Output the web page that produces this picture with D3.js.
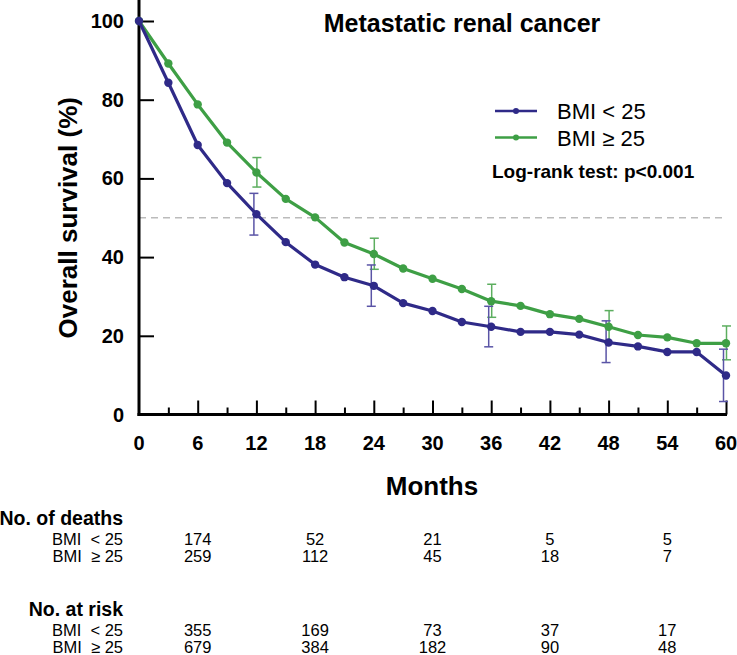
<!DOCTYPE html>
<html>
<head>
<meta charset="utf-8">
<script src="https://cdn.jsdelivr.net/npm/d3@7"></script>
<style>
  body { margin: 0; background: #fff; }
  text { font-family: "Liberation Sans", Arial, sans-serif; fill: #000; }
</style>
</head>
<body>
<div id="chart"></div>
<script>
// survival curves, one point every 3 months
const months = [0, 3, 6, 9, 12, 15, 18, 21, 24, 27, 30, 33, 36, 39, 42, 45, 48, 51, 54, 57, 60];
const bmiLow = [100, 84.3, 68.5, 58.8, 50.9, 43.8, 38.1, 34.9, 32.7, 28.3, 26.3, 23.5, 22.3, 21.0, 21.0, 20.3, 18.3, 17.3, 15.9, 15.9, 9.9];
const bmiHigh = [100, 89.2, 78.8, 69.1, 61.5, 54.8, 50.1, 43.7, 40.8, 37.1, 34.5, 31.9, 28.8, 27.6, 25.5, 24.3, 22.3, 20.2, 19.6, 18.1, 18.1];

// confidence bars
const ciMonths = [12, 24, 36, 48, 60];
const bmiLowLo = [45.6, 27.5, 17.2, 13.2, 3.3];
const bmiLowHi = [56.2, 38.0, 27.5, 23.8, 16.6];
const bmiHighLo = [57.8, 36.9, 24.7, 18.1, 13.9];
const bmiHighHi = [65.3, 44.8, 33.1, 26.4, 22.5];

// table under the plot
const tableMonths = [6, 18, 30, 42, 54];
const deathsLow = [174, 52, 21, 5, 5];
const deathsHigh = [259, 112, 45, 18, 7];
const riskLow = [355, 169, 73, 37, 17];
const riskHigh = [679, 384, 182, 90, 48];

const xTicks = [0, 6, 12, 18, 24, 30, 36, 42, 48, 54, 60];
const yTicks = [0, 20, 40, 60, 80, 100];

const purple = "#2f2a88";
const green = "#3e9f45";

const width = 737, height = 655;
const svg = d3.select("#chart").append("svg")
    .attr("width", width)
    .attr("height", height);

const x = d3.scaleLinear().domain([0, 60]).range([139, 726]);
const y = d3.scaleLinear().domain([0, 100]).range([414.5, 21]);

// title
svg.append("text")
    .attr("x", 462).attr("y", 32)
    .attr("text-anchor", "middle")
    .style("font-size", "25px").style("font-weight", "bold")
    .text("Metastatic renal cancer");

// 50% reference line
svg.append("line")
    .attr("x1", x(0)).attr("x2", 722)
    .attr("y1", y(50)).attr("y2", y(50))
    .attr("stroke", "#bbbbbb").attr("stroke-width", 1.5)
    .attr("stroke-dasharray", "7,5");

// x axis: major ticks every 6, minor every 3, pointing inward
const xAxis = svg.append("g").attr("transform", "translate(0," + y(0) + ")");
xAxis.call(d3.axisTop(x).tickValues(months.filter(m => m % 6 == 3)).tickSize(7).tickFormat(""));
xAxis.append("g").call(d3.axisTop(x).tickValues(xTicks.slice(1)).tickSize(14).tickFormat(""));
xAxis.selectAll(".domain").remove();
xAxis.selectAll("line").attr("stroke", "#000").attr("stroke-width", 2);

svg.append("g").selectAll("text")
    .data(xTicks)
    .enter().append("text")
    .attr("x", d => x(d)).attr("y", 450)
    .attr("text-anchor", "middle")
    .style("font-size", "20px").style("font-weight", "bold")
    .text(d => d);

// y axis
const yAxis = svg.append("g").attr("transform", "translate(" + x(0) + ",0)")
    .call(d3.axisRight(y).tickValues(yTicks.slice(1)).tickSize(15).tickFormat(""));
yAxis.selectAll(".domain").remove();
yAxis.selectAll("line").attr("stroke", "#000").attr("stroke-width", 2);

svg.append("g").selectAll("text")
    .data(yTicks)
    .enter().append("text")
    .attr("x", 124).attr("y", d => y(d) + 7)
    .attr("text-anchor", "end")
    .style("font-size", "20px").style("font-weight", "bold")
    .text(d => d);

svg.append("line")
    .attr("x1", x(0)).attr("x2", x(0))
    .attr("y1", 0).attr("y2", y(0) + 1.5)
    .attr("stroke", "#000").attr("stroke-width", 3);
svg.append("line")
    .attr("x1", x(0) - 1.5).attr("x2", x(60) + 1)
    .attr("y1", y(0)).attr("y2", y(0))
    .attr("stroke", "#000").attr("stroke-width", 3);

svg.append("text")
    .attr("transform", "translate(77," + y(50) + ") rotate(-90)")
    .attr("text-anchor", "middle")
    .style("font-size", "26px").style("font-weight", "bold")
    .text("Overall survival (%)");

svg.append("text")
    .attr("x", 432).attr("y", 495)
    .attr("text-anchor", "middle")
    .style("font-size", "26px").style("font-weight", "bold")
    .text("Months");

// error bars
function drawBars(lo, hi, color, dx) {
    const g = svg.append("g").attr("stroke", color).attr("stroke-width", 1.5);
    ciMonths.forEach((m, i) => {
        const cx = x(m) + dx;
        g.append("line").attr("x1", cx).attr("x2", cx).attr("y1", y(lo[i])).attr("y2", y(hi[i]));
        g.append("line").attr("x1", cx - 4.5).attr("x2", cx + 4.5).attr("y1", y(lo[i])).attr("y2", y(lo[i]));
        g.append("line").attr("x1", cx - 4.5).attr("x2", cx + 4.5).attr("y1", y(hi[i])).attr("y2", y(hi[i]));
    });
}
drawBars(bmiHighLo, bmiHighHi, "#5cae5f", 0.5);
drawBars(bmiLowLo, bmiLowHi, "#5a54a6", -2.5);

// curves
function drawCurve(values, color) {
    const line = d3.line().x((d, i) => x(months[i])).y(d => y(d));
    svg.append("path")
        .datum(values)
        .attr("d", line)
        .attr("fill", "none")
        .attr("stroke", color)
        .attr("stroke-width", 3.2)
        .attr("stroke-linejoin", "round");
    svg.append("g").selectAll("circle")
        .data(values)
        .enter().append("circle")
        .attr("cx", (d, i) => x(months[i]))
        .attr("cy", d => y(d))
        .attr("r", 4.2)
        .attr("fill", color);
}
drawCurve(bmiHigh, green);
drawCurve(bmiLow, purple);

// legend
const legend = [{label: "BMI < 25", color: purple}, {label: "BMI \u2265 25", color: green}];
legend.forEach((d, i) => {
    const ly = 111 + i * 26.5;
    svg.append("line")
        .attr("x1", 495).attr("x2", 537).attr("y1", ly).attr("y2", ly)
        .attr("stroke", d.color).attr("stroke-width", 2.5);
    svg.append("circle").attr("cx", 516).attr("cy", ly).attr("r", 3).attr("fill", d.color);
    svg.append("text")
        .attr("x", 557).attr("y", ly + 8)
        .style("font-size", "22px")
        .text(d.label);
});

svg.append("text")
    .attr("x", 492).attr("y", 178)
    .style("font-size", "19px").style("font-weight", "bold")
    .text("Log-rank test: p<0.001");

// table
function drawTable(title, top, low, high) {
    svg.append("text")
        .attr("x", 123).attr("y", top)
        .attr("text-anchor", "end")
        .style("font-size", "19.5px").style("font-weight", "bold")
        .text(title);
    [["BMI  < 25", low], ["BMI  \u2265 25", high]].forEach((row, r) => {
        const ry = top + 20 + r * 17;
        svg.append("text")
            .attr("x", 123).attr("y", ry)
            .attr("text-anchor", "end")
            .style("font-size", "16.5px")
            .attr("xml:space", "preserve")
            .style("white-space", "pre")
            .text(row[0]);
        svg.append("g").selectAll("text")
            .data(row[1])
            .enter().append("text")
            .attr("x", (d, i) => x(tableMonths[i]))
            .attr("y", ry)
            .attr("text-anchor", "middle")
            .style("font-size", "16.5px")
            .text(d => d);
    });
}
drawTable("No. of deaths", 525, deathsLow, deathsHigh);
drawTable("No. at risk", 616, riskLow, riskHigh);
</script>
</body>
</html>
